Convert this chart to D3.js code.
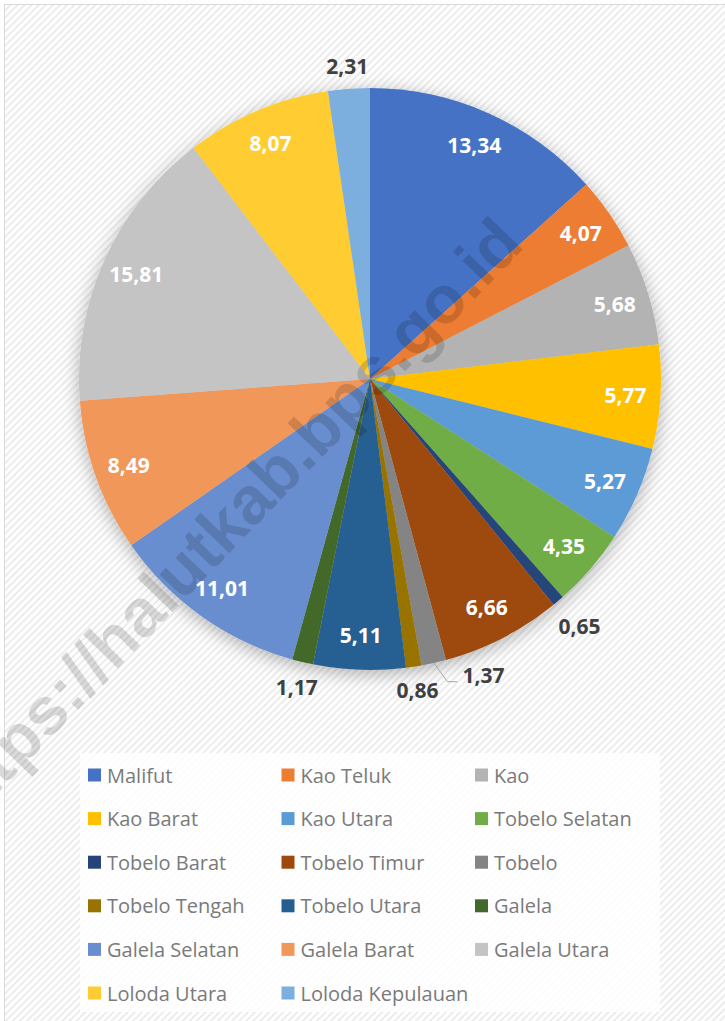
<!DOCTYPE html>
<html>
<head>
<meta charset="utf-8">
<script src="https://cdn.jsdelivr.net/npm/d3@7"></script>
<style>
  html, body { margin: 0; padding: 0; background: #fff; }
  svg { display: block; }
</style>
</head>
<body>
<svg id="chart" width="725" height="1021"></svg>
<script>
// kecamatan & share (%)
const categories = ['Malifut', 'Kao Teluk', 'Kao', 'Kao Barat', 'Kao Utara', 'Tobelo Selatan',
  'Tobelo Barat', 'Tobelo Timur', 'Tobelo', 'Tobelo Tengah', 'Tobelo Utara', 'Galela',
  'Galela Selatan', 'Galela Barat', 'Galela Utara', 'Loloda Utara', 'Loloda Kepulauan'];
const values = [13.34, 4.07, 5.68, 5.77, 5.27, 4.35, 0.65, 6.66, 1.37, 0.86, 5.11, 1.17,
  11.01, 8.49, 15.81, 8.07, 2.31];
const colors = ['#4472C4', '#ED7D31', '#B3B3B3', '#FFC000', '#5B9BD5', '#70AD47',
  '#264478', '#9E480E', '#848484', '#997300', '#255E91', '#43682B',
  '#698ED0', '#F1975A', '#C4C4C4', '#FFCD33', '#7CAFDD'];
// slices whose label sits outside the pie
const outsideLabels = ['Tobelo Barat', 'Tobelo', 'Tobelo Tengah', 'Galela', 'Loloda Kepulauan'];

const width = 725, height = 1021;
const cx = 370, cy = 379, radius = 291;

const svg = d3.select('#chart');
const defs = svg.append('defs');

// diagonal stripe background
const pat = defs.append('pattern')
  .attr('id', 'stripes')
  .attr('width', 5).attr('height', 5)
  .attr('patternUnits', 'userSpaceOnUse')
  .attr('patternTransform', 'rotate(-45)');
pat.append('rect').attr('width', 5).attr('height', 5).attr('fill', '#fff');
pat.append('rect').attr('width', 5).attr('height', 2).attr('fill', '#ececec');

const shadow = defs.append('filter').attr('id', 'shadow')
  .attr('x', '-20%').attr('y', '-20%').attr('width', '140%').attr('height', '140%');
shadow.append('feDropShadow')
  .attr('dx', 0).attr('dy', 4).attr('stdDeviation', 9)
  .attr('flood-color', '#000').attr('flood-opacity', 0.3);

svg.append('rect')
  .attr('x', 4.5).attr('y', 4.5)
  .attr('width', width + 20).attr('height', height + 20)
  .attr('fill', 'url(#stripes)')
  .attr('stroke', '#d9d9d9');

const color = d3.scaleOrdinal(categories, colors);
const locale = d3.formatLocale({ decimal: ',', thousands: '.', grouping: [3], currency: ['', ''] });
const fmt = locale.format('.2f');

const data = categories.map((c, i) => ({ key: c, value: values[i] }));

const pie = d3.pie().sort(null).value(d => d.value);
const arcs = pie(data);
const arc = d3.arc().innerRadius(0).outerRadius(radius);
const arcIn = d3.arc().innerRadius(radius * 0.88).outerRadius(radius * 0.88);
const arcEdge = d3.arc().innerRadius(radius).outerRadius(radius);

const chart = svg.append('g').attr('transform', `translate(${cx},${cy})`);

chart.append('g')
  .attr('filter', 'url(#shadow)')
  .selectAll('path')
  .data(arcs)
  .enter().append('path')
    .attr('d', arc)
    .attr('fill', d => color(d.data.key));

// the crowded "Tobelo" label is pushed aside with a leader line, like in the source
const nudge = { 'Tobelo': [44, -13] };
const gap = 14;

const labels = chart.append('g')
  .style('font-family', '"Open Sans", sans-serif')
  .style('font-weight', 700)
  .style('font-size', '21px');

arcs.forEach(d => {
  const out = outsideLabels.includes(d.data.key);
  const t = labels.append('text')
    .attr('text-anchor', 'middle')
    .attr('dominant-baseline', 'central')
    .attr('fill', out ? '#404040' : '#fff')
    .text(fmt(d.data.value));
  let x, y;
  if (out) {
    // keep the label box a fixed gap outside the rim
    const a = (d.startAngle + d.endAngle) / 2;
    const bb = t.node().getBBox();
    const ext = bb.width / 2 * Math.abs(Math.sin(a)) + 7 * Math.abs(Math.cos(a));
    const rr = radius + gap + ext;
    x = rr * Math.sin(a); y = -rr * Math.cos(a);
  } else {
    [x, y] = arcIn.centroid(d);
  }
  const n = nudge[d.data.key];
  if (n) {
    const [ex, ey] = arcEdge.centroid(d);
    x += n[0]; y += n[1];
    const lx = x - 26;
    chart.insert('polyline', 'g + g')
      .attr('points', `${ex},${ey} ${lx - 10},${y + 7} ${lx},${y + 7}`)
      .attr('fill', 'none')
      .attr('stroke', '#a6a6a6')
      .attr('stroke-width', 1);
  }
  t.attr('x', x).attr('y', y);
});

// legend
const legend = svg.append('g');
legend.append('rect')
  .attr('x', 80).attr('y', 753)
  .attr('width', 580).attr('height', 259)
  .attr('fill', '#fff').attr('opacity', 0.82);

const nCols = 3;
const colX = d3.scalePoint().domain(d3.range(nCols)).range([88, 475]);
const rowY = d3.scalePoint().domain(d3.range(Math.ceil(categories.length / nCols))).range([775, 993]);

const items = legend.selectAll('g.item')
  .data(categories)
  .enter().append('g')
    .attr('class', 'item')
    .attr('transform', (d, i) => `translate(${colX(i % nCols)},${rowY(Math.floor(i / nCols))})`);

items.append('rect')
  .attr('x', 0).attr('y', -6.5)
  .attr('width', 13).attr('height', 13)
  .attr('fill', d => color(d));

items.append('text')
  .attr('x', 19).attr('y', 0)
  .attr('dominant-baseline', 'central')
  .style('font-family', '"Open Sans", sans-serif')
  .style('font-size', '20px')
  .attr('fill', '#7a7a7a')
  .text(d => d);

// watermark
svg.append('text')
  .attr('transform', 'translate(526,246) rotate(-46)')
  .attr('text-anchor', 'end')
  .style('font-family', '"Liberation Sans", Arial, sans-serif')
  .style('font-weight', 700)
  .style('font-size', '67px')
  .attr('fill', '#000')
  .attr('opacity', 0.14)
  .text('https://halutkab.bps.go.id');
</script>
</body>
</html>
